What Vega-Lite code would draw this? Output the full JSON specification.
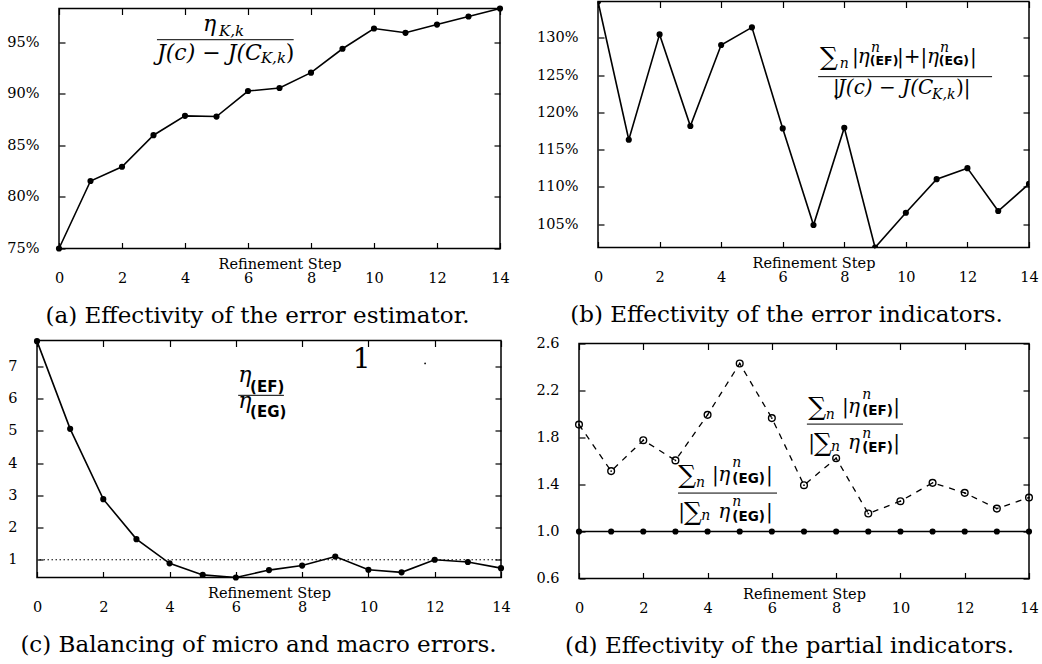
{
"$schema": "https://vega.github.io/schema/vega-lite/v6.json",
"autosize": {"type": "pad"},
"padding": {"left": -29, "top": -2.5, "right": 0, "bottom": 0},
"background": "white",
"spacing": -2,
"resolve": {"scale": {"x": "independent", "y": "independent"}},
"datasets": {
"a": [{"x":0,"y":75.0},{"x":1,"y":81.55},{"x":2,"y":82.94},{"x":3,"y":86.0},{"x":4,"y":87.88},{"x":5,"y":87.81},{"x":6,"y":90.29},{"x":7,"y":90.58},{"x":8,"y":92.07},{"x":9,"y":94.39},{"x":10,"y":96.36},{"x":11,"y":95.94},{"x":12,"y":96.74},{"x":13,"y":97.52},{"x":14,"y":98.3}],
"b": [{"x":0,"y":134.9},{"x":1,"y":116.33},{"x":2,"y":130.48},{"x":3,"y":118.17},{"x":4,"y":129.06},{"x":5,"y":131.43},{"x":6,"y":117.85},{"x":7,"y":104.87},{"x":8,"y":117.94},{"x":9,"y":101.85},{"x":10,"y":106.52},{"x":11,"y":111.03},{"x":12,"y":112.51},{"x":13,"y":106.75},{"x":14,"y":110.4}],
"c": [{"x":0,"y":7.78},{"x":1,"y":5.06},{"x":2,"y":2.88},{"x":3,"y":1.64},{"x":4,"y":0.89},{"x":5,"y":0.53},{"x":6,"y":0.45},{"x":7,"y":0.68},{"x":8,"y":0.82},{"x":9,"y":1.1},{"x":10,"y":0.69},{"x":11,"y":0.61},{"x":12,"y":1.0},{"x":13,"y":0.93},{"x":14,"y":0.74}],
"d_ef": [{"x":0,"y":1.91},{"x":1,"y":1.514},{"x":2,"y":1.777},{"x":3,"y":1.605},{"x":4,"y":1.993},{"x":5,"y":2.43},{"x":6,"y":1.965},{"x":7,"y":1.394},{"x":8,"y":1.624},{"x":9,"y":1.153},{"x":10,"y":1.258},{"x":11,"y":1.414},{"x":12,"y":1.329},{"x":13,"y":1.195},{"x":14,"y":1.289}],
"d_eg": [{"x":0,"y":1.0},{"x":1,"y":1.0},{"x":2,"y":1.0},{"x":3,"y":1.0},{"x":4,"y":1.0},{"x":5,"y":1.0},{"x":6,"y":1.0},{"x":7,"y":1.0},{"x":8,"y":1.0},{"x":9,"y":1.0},{"x":10,"y":1.0},{"x":11,"y":1.0},{"x":12,"y":1.0},{"x":13,"y":1.0},{"x":14,"y":1.0}],
"a_it22": [{"x":4.57,"y":96.11,"t":"η"},{"x":3.11,"y":93.3,"t":"J(c) − J(C"}],
"a_it15": [{"x":5.08,"y":95.63,"t":"K,k"},{"x":6.41,"y":93.01,"t":"K,k"}],
"a_up22": [{"x":7.2,"y":93.3,"t":")"}],
"a_bar": [{"x":3.11,"x2":7.45,"y":95.27}],
"b_sum": [{"x":7.21,"y":126.4,"t":"∑"}],
"b_up20": [{"x":8.25,"y":126.68,"t":"|"},{"x":9.71,"y":126.68,"t":"|+|"},{"x":12.08,"y":126.68,"t":"|"},{"x":7.63,"y":122.51,"t":"|"},{"x":11.63,"y":122.51,"t":")|"}],
"b_it20": [{"x":8.44,"y":126.68,"t":"η"},{"x":10.69,"y":126.68,"t":"η"},{"x":7.79,"y":122.51,"t":"J(c) − J(C"}],
"b_it14": [{"x":7.85,"y":126.0,"t":"n"},{"x":8.87,"y":128.06,"t":"n"},{"x":11.11,"y":128.06,"t":"n"},{"x":10.85,"y":121.84,"t":"K,k"}],
"b_bf": [{"x":8.83,"y":126.41,"t":"(EF)"},{"x":11.07,"y":126.41,"t":"(EG)"}],
"b_bar": [{"x":7.15,"x2":12.8,"y":124.8}],
"c_it22": [{"x":6.07,"y":6.515,"t":"η"},{"x":6.07,"y":5.7,"t":"η"}],
"c_bf15": [{"x":6.43,"y":6.21,"t":"(EF)"},{"x":6.43,"y":5.42,"t":"(EG)"}],
"c_up28": [{"x":9.53,"y":6.94,"t":"1"}],
"c_dot": [{"x":11.71,"y":7.09}],
"c_bar": [{"x":6.07,"x2":7.45,"y":6.1}],
"d_sum": [{"x":7.13,"y":1.993,"t":"∑"},{"x":7.31,"y":1.687,"t":"∑"},{"x":3.09,"y":1.414,"t":"∑"},{"x":3.27,"y":1.095,"t":"∑"}],
"d_up20": [{"x":8.18,"y":2.01,"t":"|"},{"x":9.78,"y":2.01,"t":"|"},{"x":7.13,"y":1.704,"t":"|"},{"x":9.78,"y":1.704,"t":"|"},{"x":4.14,"y":1.431,"t":"|"},{"x":5.82,"y":1.431,"t":"|"},{"x":3.09,"y":1.117,"t":"|"},{"x":5.82,"y":1.117,"t":"|"}],
"d_it20": [{"x":8.37,"y":2.01,"t":"η"},{"x":8.37,"y":1.704,"t":"η"},{"x":4.33,"y":1.431,"t":"η"},{"x":4.33,"y":1.117,"t":"η"}],
"d_it14": [{"x":7.68,"y":1.959,"t":"n"},{"x":8.81,"y":2.13,"t":"n"},{"x":7.84,"y":1.687,"t":"n"},{"x":8.81,"y":1.8,"t":"n"},{"x":3.64,"y":1.38,"t":"n"},{"x":4.77,"y":1.551,"t":"n"},{"x":3.8,"y":1.1,"t":"n"},{"x":4.77,"y":1.214,"t":"n"}],
"d_bf": [{"x":8.81,"y":1.993,"t":"(EF)"},{"x":8.81,"y":1.678,"t":"(EF)"},{"x":4.77,"y":1.414,"t":"(EG)"},{"x":4.77,"y":1.091,"t":"(EG)"}],
"d_bar": [{"x":7.09,"x2":10.08,"y":1.914},{"x":3.08,"x2":6.16,"y":1.327}]
},
"vconcat": [
{"hconcat": [
 {"width":10,"height":1,"data":{"values":[{}]},"mark":{"type":"point","opacity":0}},
 {"vconcat": [
  {"width":1,"height":0.1,"data":{"values":[{}]},"mark":{"type":"point","opacity":0}},
  {"width":441,"height":240,
   "view":{"stroke":"black","strokeWidth":1.5},
   "title":{"text":"(a) Effectivity of the error estimator.","orient":"bottom","anchor":"middle","dx":-22,"offset":38,"baseline":"alphabetic"},
   "resolve":{"axis":{"x":"independent","y":"independent"}},
   "layer":[
    {"data":{"name":"a"},"mark":{"type":"line","color":"black","strokeWidth":1.6},
     "encoding":{"x":{"field":"x","type":"quantitative","scale":{"domain":[0,14],"nice":false,"zero":false},"axis":{"orient":"bottom","values":[0,2,4,6,8,10,12,14],"title":"Refinement Step","titleY":20,"titleBaseline":"alphabetic","labelPadding":29,"labelFlush":false}},
     "y":{"field":"y","type":"quantitative","scale":{"domain":[75,98.3],"nice":false,"zero":false},"axis":{"orient":"left","values":[75,80,85,90,95],"labelExpr":"datum.value + '%'","labelPadding":26,"title":null}}}},
    {"data":{"name":"a"},"mark":{"type":"point","filled":true,"color":"black","opacity":1,"size":38},
     "encoding":{"x":{"field":"x","type":"quantitative","axis":null},"y":{"field":"y","type":"quantitative","axis":null}}},
    {"data":{"name":"a_bar"},"mark":{"type":"rule","color":"black","strokeWidth":1},
     "encoding":{"x":{"field":"x","type":"quantitative","axis":{"orient":"top","values":[0,2,4,6,8,10,12,14],"labels":false,"title":null}},"x2":{"field":"x2"},
     "y":{"field":"y","type":"quantitative","axis":{"orient":"right","values":[75,80,85,90,95],"labels":false,"title":null}}}},
    {"data":{"name":"a_it22"},"mark":{"type":"text","font":"DejaVu Serif","fontStyle":"italic","fontSize":22,"align":"left","baseline":"alphabetic","color":"black"},
     "encoding":{"x":{"field":"x","type":"quantitative","axis":null},"y":{"field":"y","type":"quantitative","axis":null},"text":{"field":"t"}}},
    {"data":{"name":"a_it15"},"mark":{"type":"text","font":"DejaVu Serif","fontStyle":"italic","fontSize":15,"align":"left","baseline":"alphabetic","color":"black"},
     "encoding":{"x":{"field":"x","type":"quantitative","axis":null},"y":{"field":"y","type":"quantitative","axis":null},"text":{"field":"t"}}},
    {"data":{"name":"a_up22"},"mark":{"type":"text","font":"DejaVu Serif","fontSize":22,"align":"left","baseline":"alphabetic","color":"black"},
     "encoding":{"x":{"field":"x","type":"quantitative","axis":null},"y":{"field":"y","type":"quantitative","axis":null},"text":{"field":"t"}}}
   ]}
 ], "spacing": 0, "resolve": {"scale": {"x": "independent", "y": "independent"}}},
 {"width":431,"height":246,
  "view":{"stroke":"black","strokeWidth":1.5},
  "title":{"text":"(b) Effectivity of the error indicators.","orient":"bottom","anchor":"middle","dx":-27,"offset":38,"baseline":"alphabetic"},
  "resolve":{"axis":{"x":"independent","y":"independent"}},
  "layer":[
   {"data":{"name":"b"},"mark":{"type":"line","color":"black","strokeWidth":1.6},
    "encoding":{"x":{"field":"x","type":"quantitative","scale":{"domain":[0,14],"nice":false,"zero":false},"axis":{"orient":"bottom","values":[0,2,4,6,8,10,12,14],"title":"Refinement Step","titleY":20,"titleBaseline":"alphabetic","labelPadding":29,"labelFlush":false}},
    "y":{"field":"y","type":"quantitative","scale":{"domain":[101.85,134.9],"nice":false,"zero":false},"axis":{"orient":"left","values":[105,110,115,120,125,130],"labelExpr":"datum.value + '%'","labelPadding":26,"title":null}}}},
   {"data":{"name":"b"},"mark":{"type":"point","filled":true,"color":"black","opacity":1,"size":38,"clip":true},
    "encoding":{"x":{"field":"x","type":"quantitative","axis":null},"y":{"field":"y","type":"quantitative","axis":null}}},
   {"data":{"name":"b_bar"},"mark":{"type":"rule","color":"black","strokeWidth":1},
    "encoding":{"x":{"field":"x","type":"quantitative","axis":{"orient":"top","values":[0,2,4,6,8,10,12,14],"labels":false,"title":null}},"x2":{"field":"x2"},
    "y":{"field":"y","type":"quantitative","axis":{"orient":"right","values":[105,110,115,120,125,130],"labels":false,"title":null}}}},
   {"data":{"name":"b_sum"},"mark":{"type":"text","font":"DejaVu Serif","fontSize":25,"align":"left","baseline":"alphabetic","color":"black"},
    "encoding":{"x":{"field":"x","type":"quantitative","axis":null},"y":{"field":"y","type":"quantitative","axis":null},"text":{"field":"t"}}},
   {"data":{"name":"b_up20"},"mark":{"type":"text","font":"DejaVu Serif","fontSize":20,"align":"left","baseline":"alphabetic","color":"black"},
    "encoding":{"x":{"field":"x","type":"quantitative","axis":null},"y":{"field":"y","type":"quantitative","axis":null},"text":{"field":"t"}}},
   {"data":{"name":"b_it20"},"mark":{"type":"text","font":"DejaVu Serif","fontStyle":"italic","fontSize":20,"align":"left","baseline":"alphabetic","color":"black"},
    "encoding":{"x":{"field":"x","type":"quantitative","axis":null},"y":{"field":"y","type":"quantitative","axis":null},"text":{"field":"t"}}},
   {"data":{"name":"b_it14"},"mark":{"type":"text","font":"DejaVu Serif","fontStyle":"italic","fontSize":14,"align":"left","baseline":"alphabetic","color":"black"},
    "encoding":{"x":{"field":"x","type":"quantitative","axis":null},"y":{"field":"y","type":"quantitative","axis":null},"text":{"field":"t"}}},
   {"data":{"name":"b_bf"},"mark":{"type":"text","font":"DejaVu Sans","fontWeight":"bold","fontSize":12.5,"align":"left","baseline":"alphabetic","color":"black"},
    "encoding":{"x":{"field":"x","type":"quantitative","axis":null},"y":{"field":"y","type":"quantitative","axis":null},"text":{"field":"t"}}}
  ]}
], "spacing": 25, "resolve": {"scale": {"x": "independent", "y": "independent"}}},
{"hconcat": [
 {"width":12,"height":1,"data":{"values":[{}]},"mark":{"type":"point","opacity":0}},
 {"vconcat": [
  {"width":1,"height":6,"data":{"values":[{}]},"mark":{"type":"point","opacity":0}},
  {"width":464,"height":237,
   "view":{"stroke":"black","strokeWidth":1.5},
   "title":{"text":"(c) Balancing of micro and macro errors.","orient":"bottom","anchor":"middle","dx":-10.5,"offset":38,"baseline":"alphabetic"},
   "resolve":{"axis":{"x":"independent","y":"independent"}},
   "layer":[
    {"data":{"values":[{}]},"mark":{"type":"rule","color":"black","strokeWidth":1,"strokeDash":[1.5,2.5]},
     "encoding":{"y":{"datum":1,"type":"quantitative","scale":{"domain":[0.45,7.8],"nice":false,"zero":false},"axis":null}}},
    {"data":{"name":"c"},"mark":{"type":"line","color":"black","strokeWidth":1.6},
     "encoding":{"x":{"field":"x","type":"quantitative","scale":{"domain":[0,14],"nice":false,"zero":false},"axis":{"orient":"bottom","values":[0,2,4,6,8,10,12,14],"title":"Refinement Step","titleY":20,"titleBaseline":"alphabetic","labelPadding":29,"labelFlush":false}},
     "y":{"field":"y","type":"quantitative","scale":{"domain":[0.45,7.8],"nice":false,"zero":false},"axis":{"orient":"left","values":[1,2,3,4,5,6,7],"labelPadding":26,"title":null}}}},
    {"data":{"name":"c"},"mark":{"type":"point","filled":true,"color":"black","opacity":1,"size":38},
     "encoding":{"x":{"field":"x","type":"quantitative","axis":null},"y":{"field":"y","type":"quantitative","axis":null}}},
    {"data":{"name":"c_bar"},"mark":{"type":"rule","color":"black","strokeWidth":1},
     "encoding":{"x":{"field":"x","type":"quantitative","axis":{"orient":"top","values":[0,2,4,6,8,10,12,14],"labels":false,"title":null}},"x2":{"field":"x2"},
     "y":{"field":"y","type":"quantitative","axis":{"orient":"right","values":[1,2,3,4,5,6,7],"labels":false,"title":null}}}},
    {"data":{"name":"c_it22"},"mark":{"type":"text","font":"DejaVu Serif","fontStyle":"italic","fontSize":22,"align":"left","baseline":"alphabetic","color":"black"},
     "encoding":{"x":{"field":"x","type":"quantitative","axis":null},"y":{"field":"y","type":"quantitative","axis":null},"text":{"field":"t"}}},
    {"data":{"name":"c_bf15"},"mark":{"type":"text","font":"DejaVu Sans","fontWeight":"bold","fontSize":15,"align":"left","baseline":"alphabetic","color":"black"},
     "encoding":{"x":{"field":"x","type":"quantitative","axis":null},"y":{"field":"y","type":"quantitative","axis":null},"text":{"field":"t"}}},
    {"data":{"name":"c_up28"},"mark":{"type":"text","font":"DejaVu Serif","fontSize":28,"align":"left","baseline":"alphabetic","color":"black"},
     "encoding":{"x":{"field":"x","type":"quantitative","axis":null},"y":{"field":"y","type":"quantitative","axis":null},"text":{"field":"t"}}},
    {"data":{"name":"c_dot"},"mark":{"type":"point","filled":true,"color":"black","opacity":1,"size":3},
     "encoding":{"x":{"field":"x","type":"quantitative","axis":null},"y":{"field":"y","type":"quantitative","axis":null}}}
   ]}
 ], "spacing": 0, "resolve": {"scale": {"x": "independent", "y": "independent"}}},
 {"vconcat": [
  {"width":1,"height":1,"data":{"values":[{}]},"mark":{"type":"point","opacity":0}},
  {"width":450,"height":235,
   "view":{"stroke":"black","strokeWidth":1.5},
   "title":{"text":"(d) Effectivity of the partial indicators.","orient":"bottom","anchor":"middle","dx":-14.5,"offset":38,"baseline":"alphabetic"},
   "resolve":{"axis":{"x":"independent","y":"independent"}},
   "layer":[
    {"data":{"name":"d_eg"},"mark":{"type":"line","color":"black","strokeWidth":1.6},
     "encoding":{"x":{"field":"x","type":"quantitative","scale":{"domain":[0,14],"nice":false,"zero":false},"axis":{"orient":"bottom","values":[0,2,4,6,8,10,12,14],"title":"Refinement Step","titleY":20,"titleBaseline":"alphabetic","labelPadding":29,"labelFlush":false}},
     "y":{"field":"y","type":"quantitative","scale":{"domain":[0.6,2.6],"nice":false,"zero":false},"axis":{"orient":"left","values":[0.6,1.0,1.4,1.8,2.2,2.6],"format":".1f","labelPadding":26,"title":null}}}},
    {"data":{"name":"d_eg"},"mark":{"type":"point","filled":true,"color":"black","opacity":1,"size":38},
     "encoding":{"x":{"field":"x","type":"quantitative","axis":null},"y":{"field":"y","type":"quantitative","axis":null}}},
    {"data":{"name":"d_ef"},"mark":{"type":"line","color":"black","strokeWidth":1.3,"strokeDash":[6,6]},
     "encoding":{"x":{"field":"x","type":"quantitative","axis":null},"y":{"field":"y","type":"quantitative","axis":null}}},
    {"data":{"name":"d_ef"},"mark":{"type":"point","filled":false,"color":"black","opacity":1,"size":45,"strokeWidth":1.4},
     "encoding":{"x":{"field":"x","type":"quantitative","axis":null},"y":{"field":"y","type":"quantitative","axis":null}}},
    {"data":{"name":"d_ef"},"mark":{"type":"point","filled":true,"color":"black","opacity":1,"size":3},
     "encoding":{"x":{"field":"x","type":"quantitative","axis":null},"y":{"field":"y","type":"quantitative","axis":null}}},
    {"data":{"name":"d_bar"},"mark":{"type":"rule","color":"black","strokeWidth":1},
     "encoding":{"x":{"field":"x","type":"quantitative","axis":{"orient":"top","values":[0,2,4,6,8,10,12,14],"labels":false,"title":null}},"x2":{"field":"x2"},
     "y":{"field":"y","type":"quantitative","axis":{"orient":"right","values":[0.6,1.0,1.4,1.8,2.2,2.6],"labels":false,"title":null}}}},
    {"data":{"name":"d_sum"},"mark":{"type":"text","font":"DejaVu Serif","fontSize":25,"align":"left","baseline":"alphabetic","color":"black"},
     "encoding":{"x":{"field":"x","type":"quantitative","axis":null},"y":{"field":"y","type":"quantitative","axis":null},"text":{"field":"t"}}},
    {"data":{"name":"d_up20"},"mark":{"type":"text","font":"DejaVu Serif","fontSize":20,"align":"left","baseline":"alphabetic","color":"black"},
     "encoding":{"x":{"field":"x","type":"quantitative","axis":null},"y":{"field":"y","type":"quantitative","axis":null},"text":{"field":"t"}}},
    {"data":{"name":"d_it20"},"mark":{"type":"text","font":"DejaVu Serif","fontStyle":"italic","fontSize":20,"align":"left","baseline":"alphabetic","color":"black"},
     "encoding":{"x":{"field":"x","type":"quantitative","axis":null},"y":{"field":"y","type":"quantitative","axis":null},"text":{"field":"t"}}},
    {"data":{"name":"d_it14"},"mark":{"type":"text","font":"DejaVu Serif","fontStyle":"italic","fontSize":14,"align":"left","baseline":"alphabetic","color":"black"},
     "encoding":{"x":{"field":"x","type":"quantitative","axis":null},"y":{"field":"y","type":"quantitative","axis":null},"text":{"field":"t"}}},
    {"data":{"name":"d_bf"},"mark":{"type":"text","font":"DejaVu Sans","fontWeight":"bold","fontSize":13.5,"align":"left","baseline":"alphabetic","color":"black"},
     "encoding":{"x":{"field":"x","type":"quantitative","axis":null},"y":{"field":"y","type":"quantitative","axis":null},"text":{"field":"t"}}}
   ]}
 ], "spacing": 0, "resolve": {"scale": {"x": "independent", "y": "independent"}}}
], "spacing": 24, "resolve": {"scale": {"x": "independent", "y": "independent"}}}
],
"config": {
 "view": {"stroke": null},
 "axis": {"domain": false, "grid": false, "tickSize": -6, "tickColor": "black", "tickWidth": 1.2, "labelFont": "DejaVu Serif", "labelFontSize": 14.5, "labelColor": "black", "titleFont": "DejaVu Serif", "titleFontSize": 14.5, "titleFontWeight": "normal", "titleColor": "black", "labelOverlap": false},
 "title": {"font": "DejaVu Serif", "fontSize": 23, "fontWeight": "normal", "color": "black"}
}
}
